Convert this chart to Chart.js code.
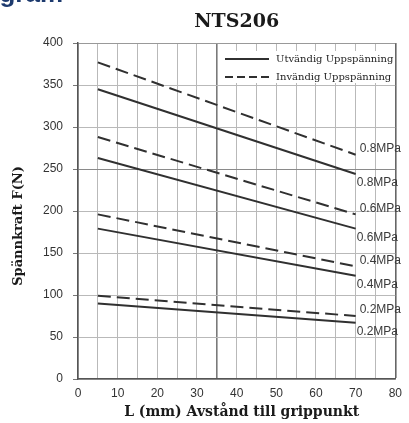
<!DOCTYPE html>
<html>
<head>
<meta charset="utf-8">
<script src="https://cdn.jsdelivr.net/npm/chart.js@4"></script>
<style>
  html, body { margin: 0; padding: 0; background: #ffffff; }
  #wrap { position: relative; width: 409px; height: 423px; overflow: hidden; }
  #head { position: absolute; left: -41px; top: -22px; font: bold 26px/30px "Liberation Sans", Arial, sans-serif; color: #1d3a6e; white-space: nowrap; }
  canvas { position: absolute; left: 0; top: 0; }
</style>
</head>
<body>
<div id="wrap">
  <canvas id="c" width="409" height="423"></canvas>
  <div id="head">Diagram</div>
</div>
<script>
// ---- data ----
const chartTitle = 'NTS206';
const xTitle = 'L (mm) Avstånd till grippunkt';
const yTitle = 'Spännkraft F(N)';
const seriesNames = ['Utvändig Uppspänning', 'Invändig Uppspänning'];
const pressureLabels = ['0.8MPa', '0.6MPa', '0.4MPa', '0.2MPa'];
const lengths = [5, 70];
// Utvändig (solid)
const utv08 = [345, 244];
const utv06 = [263, 179];
const utv04 = [179, 123];
const utv02 = [90, 67];
// Invändig (dashed)
const inv08 = [377, 267];
const inv06 = [288, 196];
const inv04 = [196, 134];
const inv02 = [99, 75];
const xTicks = [0, 10, 20, 30, 40, 50, 60, 70, 80];
const yTicks = [0, 50, 100, 150, 200, 250, 300, 350, 400];

const solidSeries = [utv08, utv06, utv04, utv02];
const dashedSeries = [inv08, inv06, inv04, inv02];

const lineColor = '#303030';
function toPts(vals) { return lengths.map((x, i) => ({ x: x, y: vals[i] })); }

const datasets = [];
solidSeries.forEach((s, i) => datasets.push({
  label: seriesNames[0] + ' ' + pressureLabels[i], data: toPts(s), kind: 'solid', pIdx: i,
  borderColor: lineColor, borderWidth: 2, pointRadius: 0, tension: 0, fill: false
}));
dashedSeries.forEach((s, i) => datasets.push({
  label: seriesNames[1] + ' ' + pressureLabels[i], data: toPts(s), kind: 'dashed', pIdx: i,
  borderColor: lineColor, borderWidth: 2, borderDash: [13, 6], pointRadius: 0, tension: 0, fill: false
}));

const textPlugin = {
  id: 'texts',
  beforeDatasetsDraw(chart) {
    const ctx = chart.ctx;
    const xs = chart.scales.x;
    ctx.save();
    ctx.fillStyle = '#ffffff';
    ctx.fillRect(xs.getPixelForValue(35) + 1.5, 51, xs.getPixelForValue(80) - xs.getPixelForValue(35) - 3, 32);
    ctx.restore();
  },
  afterDraw(chart) {
    const ctx = chart.ctx;
    const xs = chart.scales.x, ys = chart.scales.y;
    const ca = chart.chartArea;
    ctx.save();
    ctx.fillStyle = '#1a1a1a';
    ctx.textAlign = 'center';
    ctx.textBaseline = 'middle';
    ctx.font = 'bold 19px "DejaVu Serif", serif';
    ctx.fillText(chartTitle, (ca.left + ca.right) / 2, 22);
    ctx.font = 'bold 14px "DejaVu Serif", serif';
    ctx.fillText(xTitle, (ca.left + ca.right) / 2 + 5, 412);
    ctx.save();
    ctx.translate(19, 226);
    ctx.rotate(-Math.PI / 2);
    ctx.font = 'bold 13px "DejaVu Serif", serif';
    ctx.fillText(yTitle, 0, 0);
    ctx.restore();
    // legend
    ctx.strokeStyle = lineColor;
    ctx.lineWidth = 2;
    ctx.beginPath(); ctx.moveTo(225, 59); ctx.lineTo(269, 59); ctx.stroke();
    ctx.setLineDash([8, 4]);
    ctx.beginPath(); ctx.moveTo(225, 77); ctx.lineTo(269, 77); ctx.stroke();
    ctx.setLineDash([]);
    ctx.textAlign = 'left';
    ctx.font = '10px "DejaVu Serif", serif';
    ctx.fillStyle = '#222';
    ctx.fillText(seriesNames[0], 276, 59);
    ctx.fillText(seriesNames[1], 276, 77);
    // pressure labels at line ends
    ctx.font = '12px "Liberation Sans", Arial, sans-serif';
    ctx.fillStyle = '#3a3a3a';
    chart.data.datasets.forEach(ds => {
      const last = ds.data[ds.data.length - 1];
      const px = xs.getPixelForValue(last.x);
      const py = ys.getPixelForValue(last.y);
      if (ds.kind === 'dashed') ctx.fillText(pressureLabels[ds.pIdx], px + 4, py - 6);
      else ctx.fillText(pressureLabels[ds.pIdx], px + 1, py + 9);
    });
    ctx.restore();
  }
};

new Chart(document.getElementById('c'), {
  type: 'line',
  data: { datasets: datasets },
  options: {
    responsive: false,
    animation: false,
    devicePixelRatio: 1,
    layout: { padding: { top: 43, right: 7, left: 0, bottom: 0 } },
    plugins: { legend: { display: false }, title: { display: false }, tooltip: { enabled: false } },
    scales: {
      x: {
        type: 'linear', min: 0, max: 80,
        afterFit(s) { s.height = 44; },
        afterBuildTicks(s) { const t = []; for (let v = 0; v <= 80; v += 5) t.push({ value: v }); s.ticks = t; },
        ticks: {
          padding: 7, color: '#333',
          font: { family: '"Liberation Sans", Arial, sans-serif', size: 12 },
          maxRotation: 0, autoSkip: false,
          callback: v => xTicks.includes(v) ? String(v) : ''
        },
        grid: {
          drawTicks: false,
          color: c => (c.tick && c.tick.value === 35) ? '#7a7a7a' : (c.tick && c.tick.value === 80 ? '#666' : '#b9b9b9'),
          lineWidth: c => (c.tick && (c.tick.value === 35 || c.tick.value === 80)) ? 1.6 : 1
        },
        border: { color: '#555', width: 1.5 }
      },
      y: {
        type: 'linear', min: 0, max: 400,
        afterFit(s) { s.width = 78; },
        afterBuildTicks(s) { s.ticks = yTicks.map(v => ({ value: v })); },
        ticks: {
          padding: 10, color: '#333',
          font: { family: '"Liberation Sans", Arial, sans-serif', size: 12 }
        },
        grid: {
          tickLength: 5,
          tickColor: '#777',
          color: c => (c.tick && c.tick.value === 250) ? '#8a8a8a' : (c.tick && c.tick.value === 400 ? '#999' : '#b9b9b9'),
          lineWidth: 1
        },
        border: { color: '#555', width: 1.5 }
      }
    }
  },
  plugins: [textPlugin]
});
</script>
</body>
</html>
